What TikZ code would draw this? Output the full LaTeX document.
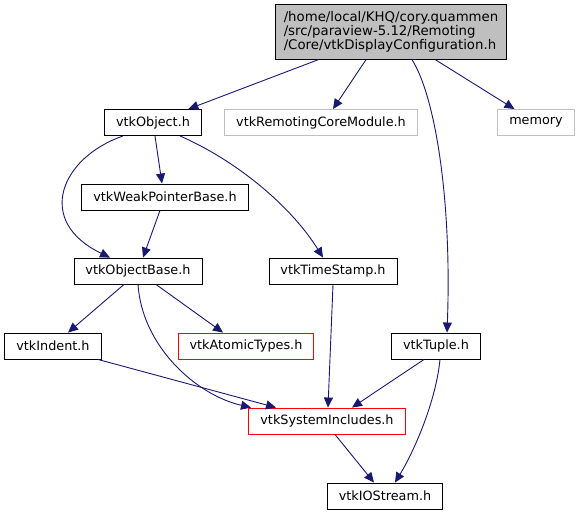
\documentclass[tikz,border=0pt]{standalone}
\usepackage{fontspec}
\setmainfont{DejaVu Sans}
\usepackage{xcolor}
\usepackage{tikz}
\usetikzlibrary{arrows.meta}

\definecolor{edgeblue}{HTML}{191970}
\definecolor{rootgray}{HTML}{BFBFBF}

\begin{document}
\begin{tikzpicture}[
  x=1pt, y=-1pt,
  font=\fontsize{12.8}{13.5}\selectfont,
  file/.style={draw=black, line width=0.9pt, fill=white, minimum height=26pt, inner xsep=11.5pt, inner ysep=2pt},
  sysfile/.style={file, draw=rootgray},
  trunc/.style={file, draw=red},
  rootfile/.style={file, fill=rootgray, align=left, inner ysep=7pt, inner xsep=8pt, font=\fontsize{13.3}{13.8}\selectfont},
  dep/.style={draw=edgeblue, line width=0.9pt, -{Triangle[length=10pt,width=9pt]}}
]
\useasboundingbox (0,0) rectangle (580,515);

% nodes
\node[rootfile] (root) at (391,32) {/home/local/KHQ/cory.quammen\\/src/paraview-5.12/Remoting\\/Core/vtkDisplayConfiguration.h};
\node[file] (obj) at (153,122.5) {vtkObject.h};
\node[sysfile] (rcm) at (321,122.5) {vtkRemotingCoreModule.h};
\node[sysfile] (mem) at (536,122.5) {memory};
\node[file] (weak) at (165,197) {vtkWeakPointerBase.h};
\node[file] (objbase) at (138,271) {vtkObjectBase.h};
\node[file] (stamp) at (333,271) {vtkTimeStamp.h};
\node[file] (indent) at (53,346) {vtkIndent.h};
\node[trunc] (atomic) at (246,346) {vtkAtomicTypes.h};
\node[file] (tuple) at (436,346) {vtkTuple.h};
\node[trunc] (sysinc) at (327,421) {vtkSystemIncludes.h};
\node[file] (iostream) at (385,496) {vtkIOStream.h};

% edges
\draw[dep] (root) -- (obj);
\draw[dep] ([xshift=-25pt]root.south) -- ([xshift=12pt]rcm.north);
\draw[dep] (root) -- (mem);
\draw[dep] ([xshift=21pt]root.south) .. controls +(23,36) and +(5,-133) .. ([xshift=11pt]tuple.north);

\draw[dep] ([xshift=2pt]obj.south) -- ([xshift=-3pt]weak.north);
\draw[dep] ([xshift=-30pt]obj.south) .. controls +(-63,22) and +(-75,-36) .. ([xshift=-28pt]objbase.north);
\draw[dep] ([xshift=27pt]obj.south) .. controls +(55,24) and +(-33,-53) .. ([xshift=-10pt]stamp.north);
\draw[dep] ([xshift=-5pt]weak.south) -- ([xshift=5pt]objbase.north);

\draw[dep] ([xshift=-14pt]objbase.south) -- ([xshift=15pt]indent.north);
\draw[dep] ([xshift=18pt]objbase.south) -- ([xshift=-23pt]atomic.north);
\draw[dep] (objbase.south) .. controls +(4,61) and +(-56,-13) .. ([xshift=-76pt]sysinc.north);

\draw[dep] ([xshift=45pt]indent.south) -- ([xshift=-51pt]sysinc.north);
\draw[dep] (stamp.south) -- ([xshift=1pt]sysinc.north);
\draw[dep] ([xshift=-12pt]tuple.south) -- ([xshift=25pt]sysinc.north);
\draw[dep] ([xshift=4pt]tuple.south) .. controls +(-4,41) and +(20,-33) .. ([xshift=10pt]iostream.north);
\draw[dep] ([xshift=8pt]sysinc.south) -- ([xshift=-11pt]iostream.north);
\end{tikzpicture}
\end{document}
